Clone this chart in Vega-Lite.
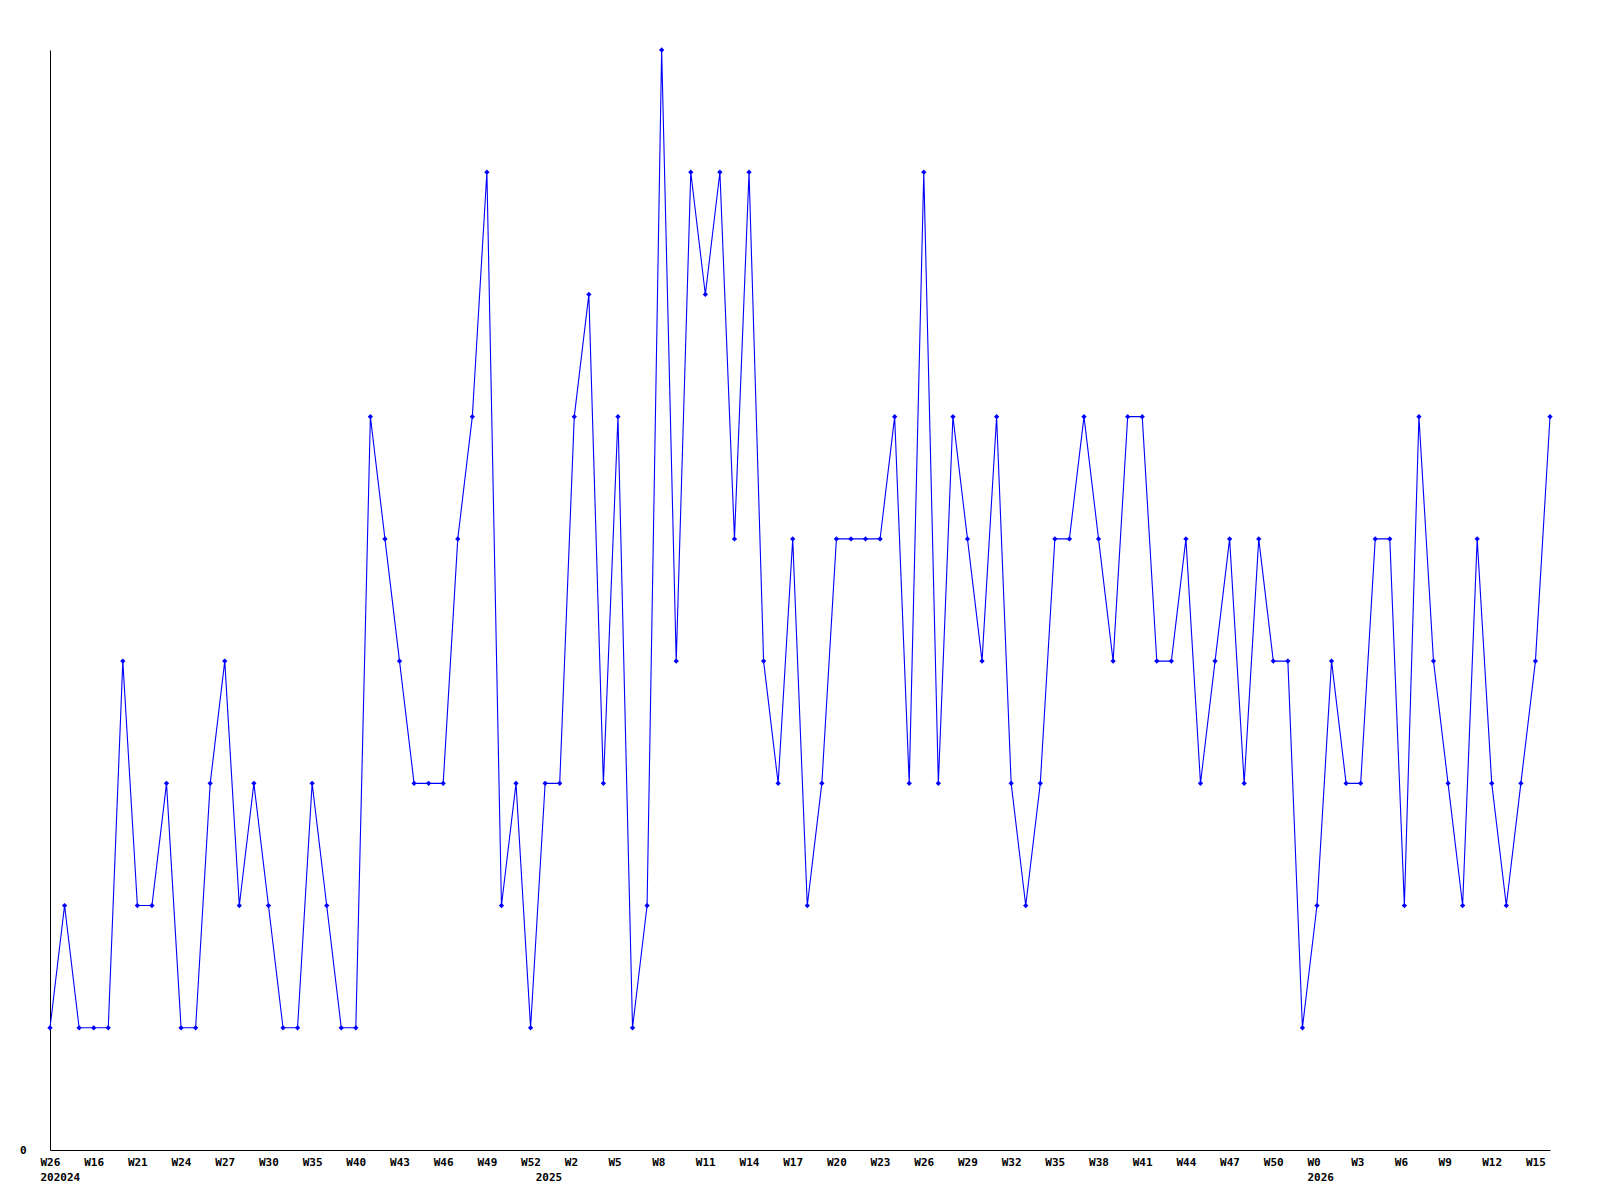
{
  "$schema": "https://vega.github.io/schema/vega-lite/v6.json",
  "width": 1500,
  "height": 1100,
  "autosize": {"type": "none"},
  "padding": {"left": 50, "top": 50, "right": 50, "bottom": 50},
  "background": "white",
  "config": {"view": {"stroke": null}},
  "data": {"values": [
    {"key": "202024-W26", "v": 1}, {"key": "2024-W14", "v": 2}, {"key": "2024-W15", "v": 1}, {"key": "2024-W16", "v": 1},
    {"key": "2024-W18", "v": 1}, {"key": "2024-W20", "v": 4}, {"key": "2024-W21", "v": 2}, {"key": "2024-W22", "v": 2},
    {"key": "2024-W23", "v": 3}, {"key": "2024-W24", "v": 1}, {"key": "2024-W25", "v": 1}, {"key": "2024-W26", "v": 3},
    {"key": "2024-W27", "v": 4}, {"key": "2024-W28", "v": 2}, {"key": "2024-W29", "v": 3}, {"key": "2024-W30", "v": 2},
    {"key": "2024-W32", "v": 1}, {"key": "2024-W33", "v": 1}, {"key": "2024-W35", "v": 3}, {"key": "2024-W37", "v": 2},
    {"key": "2024-W38", "v": 1}, {"key": "2024-W40", "v": 1}, {"key": "2024-W41", "v": 6}, {"key": "2024-W42", "v": 5},
    {"key": "2024-W43", "v": 4}, {"key": "2024-W44", "v": 3}, {"key": "2024-W45", "v": 3}, {"key": "2024-W46", "v": 3},
    {"key": "2024-W47", "v": 5}, {"key": "2024-W48", "v": 6}, {"key": "2024-W49", "v": 8}, {"key": "2024-W50", "v": 2},
    {"key": "2024-W51", "v": 3}, {"key": "2024-W52", "v": 1},
    {"key": "2025-W0", "v": 3}, {"key": "2025-W1", "v": 3}, {"key": "2025-W2", "v": 6}, {"key": "2025-W3", "v": 7},
    {"key": "2025-W4", "v": 3}, {"key": "2025-W5", "v": 6}, {"key": "2025-W6", "v": 1}, {"key": "2025-W7", "v": 2},
    {"key": "2025-W8", "v": 9}, {"key": "2025-W9", "v": 4}, {"key": "2025-W10", "v": 8}, {"key": "2025-W11", "v": 7},
    {"key": "2025-W12", "v": 8}, {"key": "2025-W13", "v": 5}, {"key": "2025-W14", "v": 8}, {"key": "2025-W15", "v": 4},
    {"key": "2025-W16", "v": 3}, {"key": "2025-W17", "v": 5}, {"key": "2025-W18", "v": 2}, {"key": "2025-W19", "v": 3},
    {"key": "2025-W20", "v": 5}, {"key": "2025-W21", "v": 5}, {"key": "2025-W22", "v": 5}, {"key": "2025-W23", "v": 5},
    {"key": "2025-W24", "v": 6}, {"key": "2025-W25", "v": 3}, {"key": "2025-W26", "v": 8}, {"key": "2025-W27", "v": 3},
    {"key": "2025-W28", "v": 6}, {"key": "2025-W29", "v": 5}, {"key": "2025-W30", "v": 4}, {"key": "2025-W31", "v": 6},
    {"key": "2025-W32", "v": 3}, {"key": "2025-W33", "v": 2}, {"key": "2025-W34", "v": 3}, {"key": "2025-W35", "v": 5},
    {"key": "2025-W36", "v": 5}, {"key": "2025-W37", "v": 6}, {"key": "2025-W38", "v": 5}, {"key": "2025-W39", "v": 4},
    {"key": "2025-W40", "v": 6}, {"key": "2025-W41", "v": 6}, {"key": "2025-W42", "v": 4}, {"key": "2025-W43", "v": 4},
    {"key": "2025-W44", "v": 5}, {"key": "2025-W45", "v": 3}, {"key": "2025-W46", "v": 4}, {"key": "2025-W47", "v": 5},
    {"key": "2025-W48", "v": 3}, {"key": "2025-W49", "v": 5}, {"key": "2025-W50", "v": 4}, {"key": "2025-W51", "v": 4},
    {"key": "2025-W52", "v": 1},
    {"key": "2026-W0", "v": 2}, {"key": "2026-W1", "v": 4}, {"key": "2026-W2", "v": 3}, {"key": "2026-W3", "v": 3},
    {"key": "2026-W4", "v": 5}, {"key": "2026-W5", "v": 5}, {"key": "2026-W6", "v": 2}, {"key": "2026-W7", "v": 6},
    {"key": "2026-W8", "v": 4}, {"key": "2026-W9", "v": 3}, {"key": "2026-W10", "v": 2}, {"key": "2026-W11", "v": 5},
    {"key": "2026-W12", "v": 3}, {"key": "2026-W13", "v": 2}, {"key": "2026-W14", "v": 3}, {"key": "2026-W15", "v": 4},
    {"key": "2026-W16", "v": 6}
  ]},
  "encoding": {
    "x": {
      "field": "key", "type": "ordinal", "sort": null,
      "scale": {"type": "point", "padding": 0},
      "axis": {
        "title": null,
        "values": ["202024-W26", "2024-W16", "2024-W21", "2024-W24", "2024-W27", "2024-W30", "2024-W35", "2024-W40", "2024-W43", "2024-W46", "2024-W49", "2024-W52", "2025-W0", "2025-W2", "2025-W5", "2025-W8", "2025-W11", "2025-W14", "2025-W17", "2025-W20", "2025-W23", "2025-W26", "2025-W29", "2025-W32", "2025-W35", "2025-W38", "2025-W41", "2025-W44", "2025-W47", "2025-W50", "2026-W0", "2026-W3", "2026-W6", "2026-W9", "2026-W12", "2026-W15"],
        "labelExpr": "datum.value == '2025-W0' ? ['', '2025'] : (datum.value == '202024-W26' || datum.value == '2026-W0') ? [split(datum.value, '-')[1], split(datum.value, '-')[0]] : split(datum.value, '-')[1]",
        "labelAngle": 0,
        "labelAlign": "left",
        "labelBaseline": "top",
        "labelOffset": -10,
        "labelPadding": 6,
        "labelOverlap": false,
        "labelBound": false,
        "labelFlush": false,
        "labelFont": "DejaVu Sans Mono",
        "labelFontWeight": "bold",
        "labelFontSize": 11,
        "labelLineHeight": 15,
        "labelColor": "black",
        "ticks": false,
        "grid": false,
        "domainColor": "black",
        "domainWidth": 1
      }
    },
    "y": {
      "field": "v", "type": "quantitative",
      "scale": {"domain": [0, 9], "nice": false, "zero": true},
      "axis": {
        "title": null,
        "values": [0],
        "ticks": false,
        "grid": false,
        "labelPadding": 24,
        "labelFont": "DejaVu Sans Mono",
        "labelFontWeight": "bold",
        "labelFontSize": 11,
        "labelColor": "black",
        "domainColor": "black",
        "domainWidth": 1
      }
    }
  },
  "layer": [
    {"mark": {"type": "line", "color": "#0000ff", "strokeWidth": 1.1}},
    {"mark": {"type": "point", "shape": "diamond", "filled": true, "color": "#0000ff", "size": 28, "opacity": 1}}
  ]
}
